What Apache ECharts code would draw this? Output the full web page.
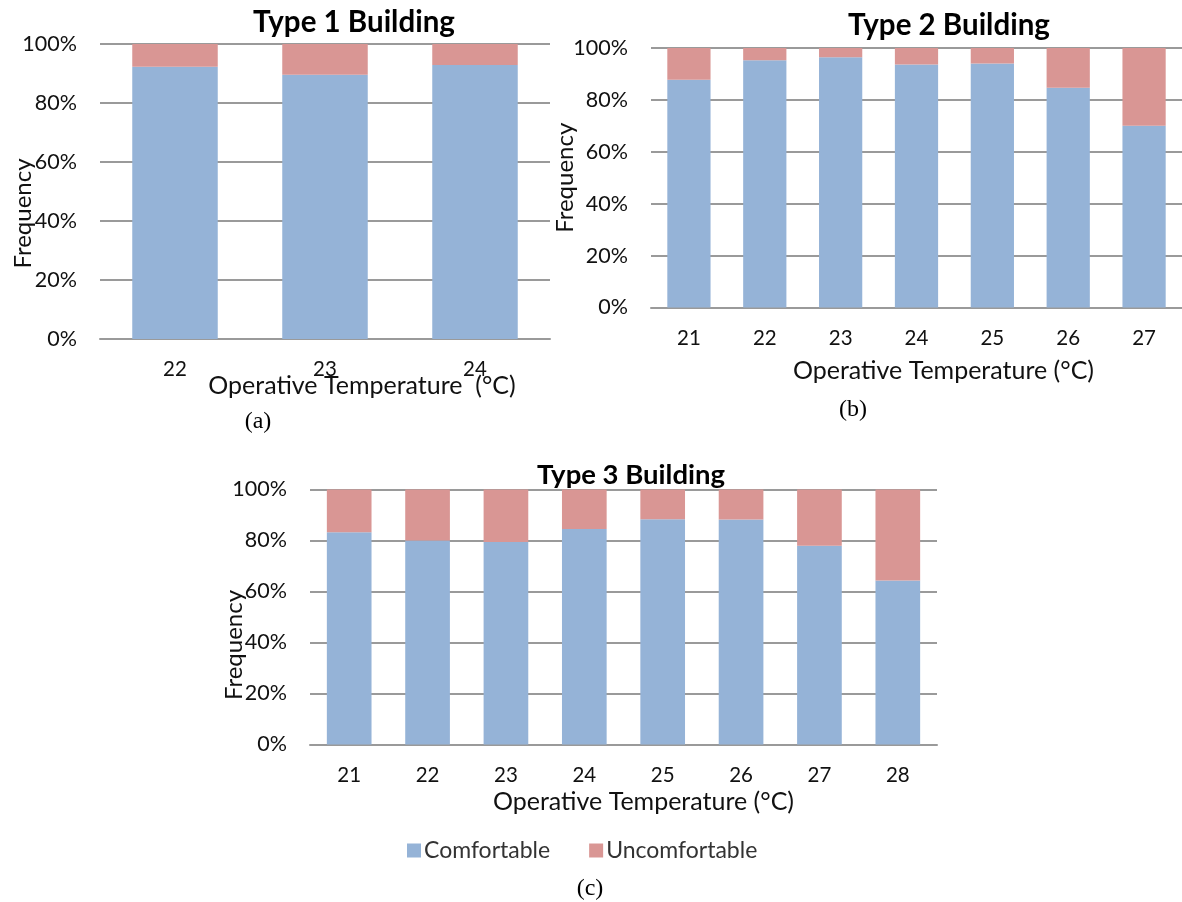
<!DOCTYPE html>
<html>
<head>
<meta charset="utf-8">
<script src="https://cdn.jsdelivr.net/npm/echarts@6/dist/echarts.min.js"></script>
<style>
  html, body { margin: 0; padding: 0; background: #ffffff; }
  #chart { width: 1182px; height: 902px; }
</style>
</head>
<body>
<div id="chart"></div>
<script>
// Share of comfortable / uncomfortable votes per operative temperature (°C)
const type1Temps = ['22', '23', '24'];
const type1Comfortable = [92.3, 89.6, 92.9];
const type1Uncomfortable = [7.7, 10.4, 7.1];

const type2Temps = ['21', '22', '23', '24', '25', '26', '27'];
const type2Comfortable = [87.8, 95.3, 96.4, 93.6, 94.0, 84.7, 70.0];
const type2Uncomfortable = [12.2, 4.7, 3.6, 6.4, 6.0, 15.3, 30.0];

const type3Temps = ['21', '22', '23', '24', '25', '26', '27', '28'];
const type3Comfortable = [83.2, 80.0, 79.4, 84.5, 88.3, 88.2, 77.9, 64.3];
const type3Uncomfortable = [16.8, 20.0, 20.6, 15.5, 11.7, 11.8, 22.1, 35.7];

const percentTicks = [0, 20, 40, 60, 80, 100];

const titles = ['Type 1 Building', 'Type 2 Building', 'Type 3 Building'];
const captions = ['(a)', '(b)', '(c)'];
const xName = ['Operative Temperature  (°C)', 'Operative Temperature (°C)', 'Operative Temperature (°C)'];
const yName = 'Frequency';
const seriesNames = ['Comfortable', 'Uncomfortable'];

const SANS = 'Lato, "Noto Sans", sans-serif';
const SERIF = '"Liberation Serif", "DejaVu Serif", serif';
const BLUE = '#95B3D7';
const RED = '#D99694';
const GRID_LINE = '#9a9a9a';
const INK = '#111111';

// plot boxes for the three panels
const grids = [
  { left: 100, top: 44, width: 450, height: 295 },
  { left: 651, top: 48, width: 554, height: 259.5 },
  { left: 310, top: 489.5, width: 627, height: 255 }
];

// per-panel placement of the axis titles
const xNameShift = [37, 27, 20];
const xNameGap = [34, 51, 45];
const yNameShift = [22, 0, 28];
const yNameGap = [65, 74, 64];
const titleSize = [29.5, 29.5, 27.5];

const categories = [type1Temps, type2Temps, type3Temps];
const comfortable = [type1Comfortable, type2Comfortable, type3Comfortable];
const uncomfortable = [type1Uncomfortable, type2Uncomfortable, type3Uncomfortable];

const xAxes = categories.map((cats, i) => ({
  type: 'category',
  gridIndex: i,
  data: cats,
  axisLine: { show: true, lineStyle: { color: GRID_LINE, width: 2 } },
  axisTick: { show: false },
  axisLabel: { margin: 20, fontFamily: SANS, fontSize: 20.5, color: INK },
  name: xName[i],
  nameLocation: 'middle',
  nameGap: xNameGap[i],
  nameMoveOverlap: false,
  nameTextStyle: {
    fontFamily: SANS, fontSize: 25, color: INK,
    padding: [0, 0, 0, 2 * xNameShift[i]]
  }
}));

const yAxes = categories.map((cats, i) => ({
  type: 'value',
  gridIndex: i,
  min: percentTicks[0],
  max: percentTicks[percentTicks.length - 1],
  interval: percentTicks[1] - percentTicks[0],
  axisLine: { show: false },
  axisTick: { show: false },
  splitLine: { show: true, lineStyle: { color: GRID_LINE, width: 2 } },
  axisLabel: { margin: 23, fontFamily: SANS, fontSize: 21.5, color: INK, formatter: '{value}%' },
  name: yName,
  nameLocation: 'middle',
  nameRotate: 90,
  nameGap: yNameGap[i],
  nameMoveOverlap: false,
  nameTextStyle: {
    fontFamily: SANS, fontSize: 24, color: INK,
    padding: [0, 2 * yNameShift[i], 0, 0]
  }
}));

const series = [];
categories.forEach((cats, i) => {
  series.push({
    name: seriesNames[0], type: 'bar', stack: 'panel' + i,
    xAxisIndex: i, yAxisIndex: i, barWidth: '57%',
    itemStyle: { color: BLUE },
    data: comfortable[i]
  });
  series.push({
    name: seriesNames[1], type: 'bar', stack: 'panel' + i,
    xAxisIndex: i, yAxisIndex: i, barWidth: '57%',
    itemStyle: { color: RED },
    data: uncomfortable[i]
  });
});

const titleCenters = [[354, 22], [949, 25], [631, 475]];
const captionCenters = [[258, 422], [853, 410], [590, 889]];

const option = {
  animation: false,
  backgroundColor: '#ffffff',
  title: titles.map((t, i) => ({
    text: t,
    left: titleCenters[i][0],
    top: titleCenters[i][1] - 16,
    textAlign: 'center',
    padding: 0,
    textStyle: { fontFamily: SANS, fontWeight: 'bold', fontSize: titleSize[i], lineHeight: 32, color: '#000000' }
  })),
  legend: {
    data: seriesNames,
    left: 402,
    top: 834,
    itemWidth: 14,
    itemHeight: 14,
    itemGap: 39,
    icon: 'rect',
    textStyle: { fontFamily: SANS, fontSize: 23, color: '#333333', padding: [0, 0, 0, -2] }
  },
  grid: grids.map(g => Object.assign({ containLabel: false }, g)),
  xAxis: xAxes,
  yAxis: yAxes,
  series: series,
  graphic: captions.map((c, i) => ({
    type: 'text',
    x: captionCenters[i][0],
    y: captionCenters[i][1],
    style: {
      text: c, fontFamily: SERIF, fontSize: 24, fill: '#000000',
      align: 'center', verticalAlign: 'middle'
    }
  }))
};

const chart = echarts.init(document.getElementById('chart'), null, { renderer: 'canvas' });
chart.setOption(option);
</script>
</body>
</html>
